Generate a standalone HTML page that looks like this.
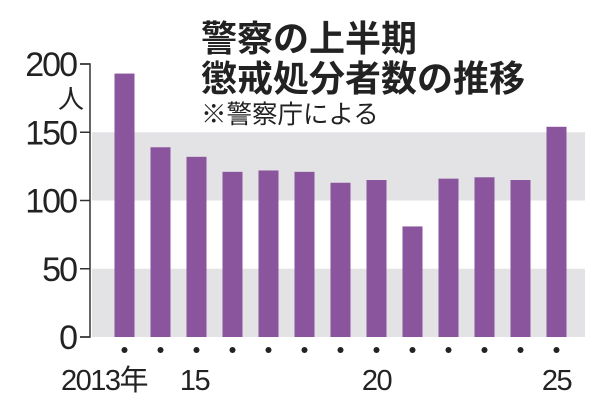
<!DOCTYPE html>
<html><head><meta charset="utf-8"><style>
body{margin:0;background:#fff;width:600px;height:410px;overflow:hidden}
svg text{font-family:"Liberation Sans","Noto Sans CJK JP",sans-serif;fill:#222}
</style></head><body>
<svg id="c" width="600" height="410"></svg>
<script>
const years=[2013,2014,2015,2016,2017,2018,2019,2020,2021,2022,2023,2024,2025];
const values=[193,139,132,121,122,121,113,115,81,116,117,115,154];
const yTicks=[0,50,100,150,200];
const xLabels={2013:"2013年",2015:"15",2020:"20",2025:"25"};
const svg=document.getElementById('c');
const NS='http://www.w3.org/2000/svg';
function y(v){return 337-v*(337-64)/200;}
function x(i){return 124.5+i*36;}
function mk(t,a,p){const e=document.createElementNS(NS,t);for(const k in a)e.setAttribute(k,a[k]);(p||svg).appendChild(e);return e;}
[[0,50],[100,150]].forEach(b=>{const r=mk('rect',{x:92,y:y(b[1]),width:493,height:y(b[0])-y(b[1]),fill:'#e3e3e5'});

});
const ax=mk('path',{d:`M80 ${y(200)}H90V${y(0)}H80`,stroke:'#333','stroke-width':1.5,fill:'none'});


yTicks.forEach(v=>{const l=mk('line',{x1:80,x2:90,y1:y(v),y2:y(v),stroke:'#333','stroke-width':1.5});


const t=mk('text',{x:76,y:y(v)+12,'text-anchor':'end','font-size':34,'letter-spacing':-2});t.textContent=v;

});
const u=mk('text',{x:58,y:108,'font-size':26});u.textContent='人';


years.forEach((yr,i)=>{const b=mk('rect',{x:x(i)-10,y:y(values[i]),width:20,height:y(0)-y(values[i]),fill:'#8a559d'});


const d=mk('circle',{cx:x(i),cy:350,r:3,fill:'#222'});


if(xLabels[yr]){const t=mk('text',{x:yr===2013?61:x(i)+(yr===2015?-2:0),y:390,'text-anchor':yr===2013?'start':'middle','font-size':29,'letter-spacing':-1.5});t.textContent=xLabels[yr];

}});
const t1=mk('text',{x:201,y:51,'font-size':36,'font-weight':'bold'});t1.textContent='警察の上半期';


const t2=mk('text',{x:201,y:91,'font-size':36,'font-weight':'bold'});t2.textContent='懲戒処分者数の推移';


const s=mk('text',{x:201,y:123,'font-size':25.5,fill:'#444'});s.textContent='※警察庁による';


</script>
</body></html>
